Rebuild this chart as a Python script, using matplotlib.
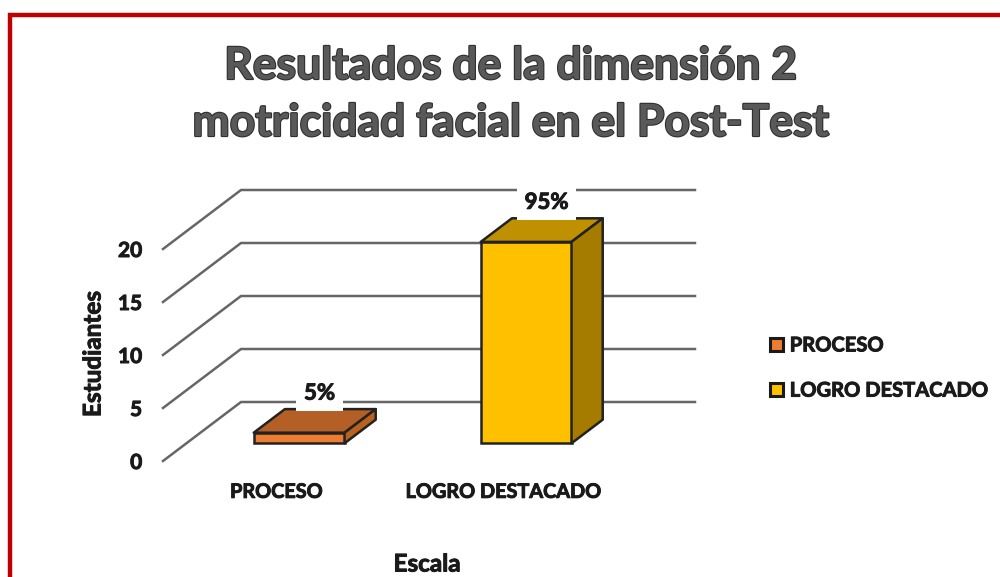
import matplotlib
matplotlib.use("Agg")
import matplotlib.pyplot as plt
import matplotlib.patheffects as pe
from matplotlib.patches import Polygon

categorias = ["PROCESO", "LOGRO DESTACADO"]
valores = [1, 19]
etiquetas = ["5%", "95%"]
ticks_y = [0, 5, 10, 15, 20]

color_frente = ["#ED7D31", "#FFC000"]
color_arriba = ["#B45F25", "#BF9000"]
color_lado = ["#B9611F", "#A67C00"]

# profundidad del falso 3D, en unidades de los ejes
prof_x = 78 / 227
prof_y = 59 / 10.6
d0 = 0.30
d1 = 0.70
ancho = 0.4
borde = "#222222"
texto = "#1a1a1a"

plt.rcParams["font.family"] = ["Lato", "DejaVu Sans"]
plt.rcParams["font.weight"] = "bold"

W, H = 1000, 577
fig = plt.figure(figsize=(W / 100, H / 100), dpi=100)
ax = fig.add_axes([163 / W, 1 - 461 / H, 454 / W, 212 / H])
ax.set_xlim(0, 2)
ax.set_ylim(0, 20)
for s in ax.spines.values():
    s.set_visible(False)

# lineas de la cuadricula
for v in ticks_y:
    ax.plot([0, prof_x, 2 + prof_x], [v, v + prof_y, v + prof_y],
            color="#666666", lw=1.8, clip_on=False, zorder=1)

# grosor extra para imitar el texto pesado del original
grueso = [pe.withStroke(linewidth=0.7, foreground=texto)]

# barras
for i, val in enumerate(valores):
    x0 = i + 0.5 - ancho / 2 + 0.29 * prof_x
    y0 = d0 * prof_y
    dx = (d1 - d0) * prof_x
    dy = (d1 - d0) * prof_y
    ax.bar(x0, val, width=ancho, bottom=y0, align="edge", color=color_frente[i],
           edgecolor=borde, linewidth=1.8, clip_on=False, zorder=3, label=categorias[i])
    ax.add_patch(Polygon([(x0, y0 + val), (x0 + dx, y0 + val + dy),
                          (x0 + ancho + dx, y0 + val + dy), (x0 + ancho, y0 + val)],
                         facecolor=color_arriba[i], edgecolor=borde, lw=1.8,
                         clip_on=False, zorder=3, joinstyle="round"))
    ax.add_patch(Polygon([(x0 + ancho, y0), (x0 + ancho + dx, y0 + dy),
                          (x0 + ancho + dx, y0 + val + dy), (x0 + ancho, y0 + val)],
                         facecolor=color_lado[i], edgecolor=borde, lw=1.8,
                         clip_on=False, zorder=3, joinstyle="round"))
    ax.annotate(etiquetas[i], xy=(x0 + ancho / 2 + dx / 2, y0 + val + dy), xytext=(3.5, 11.5),
                textcoords="offset points", ha="center", va="center", fontsize=16,
                color=texto, zorder=5, annotation_clip=False, path_effects=grueso,
                bbox=dict(facecolor="white", edgecolor="none", pad=5.5))

ax.set_xticks([0.5, 1.5])
ax.set_xticklabels(categorias, fontsize=14.3, color=texto, path_effects=grueso)
ax.set_yticks(ticks_y)
ax.set_yticklabels([str(t) for t in ticks_y], fontsize=15, color=texto, path_effects=grueso)
ax.tick_params(axis="x", length=0, pad=15)
ax.tick_params(axis="y", length=0, pad=15)

fig.text(427 / W, 1 - 564 / H, "Escala", ha="center", va="center", fontsize=17.5,
         color=texto, path_effects=grueso)
fig.text(93 / W, 1 - 354 / H, "Estudiantes", ha="center", va="center", rotation=90,
         fontsize=17.5, color=texto, path_effects=grueso)

# titulo con contorno
efecto = [pe.withStroke(linewidth=1.6, foreground="#2f2f2f")]
fig.text(511 / W, 1 - 66 / H, "Resultados de la dimensión 2", ha="center", va="center",
         fontsize=32, color="#595959", path_effects=efecto)
fig.text(511 / W, 1 - 123 / H, "motricidad facial en el Post-Test", ha="center", va="center",
         fontsize=32, color="#595959", path_effects=efecto)

# leyenda
leg = ax.legend(loc="center left", bbox_to_anchor=(770 / W, 1 - 368 / H),
                bbox_transform=fig.transFigure, frameon=False, fontsize=14.5,
                handlelength=0.66, handleheight=0.66, handletextpad=0.32, labelspacing=1.25,
                borderpad=0, borderaxespad=0, labelcolor=texto)
for h in leg.legend_handles:
    h.set_edgecolor(texto)
    h.set_linewidth(2.2)
for t in leg.get_texts():
    t.set_path_effects(grueso)

# marco rojo
fig.add_artist(plt.Line2D([10 / W, 10 / W, 1], [0, 1 - 14.5 / H, 1 - 14.5 / H],
                          transform=fig.transFigure, color="#C00000", lw=3.2,
                          solid_joinstyle="miter"))

fig.savefig("out.png", dpi=100, facecolor="white")
